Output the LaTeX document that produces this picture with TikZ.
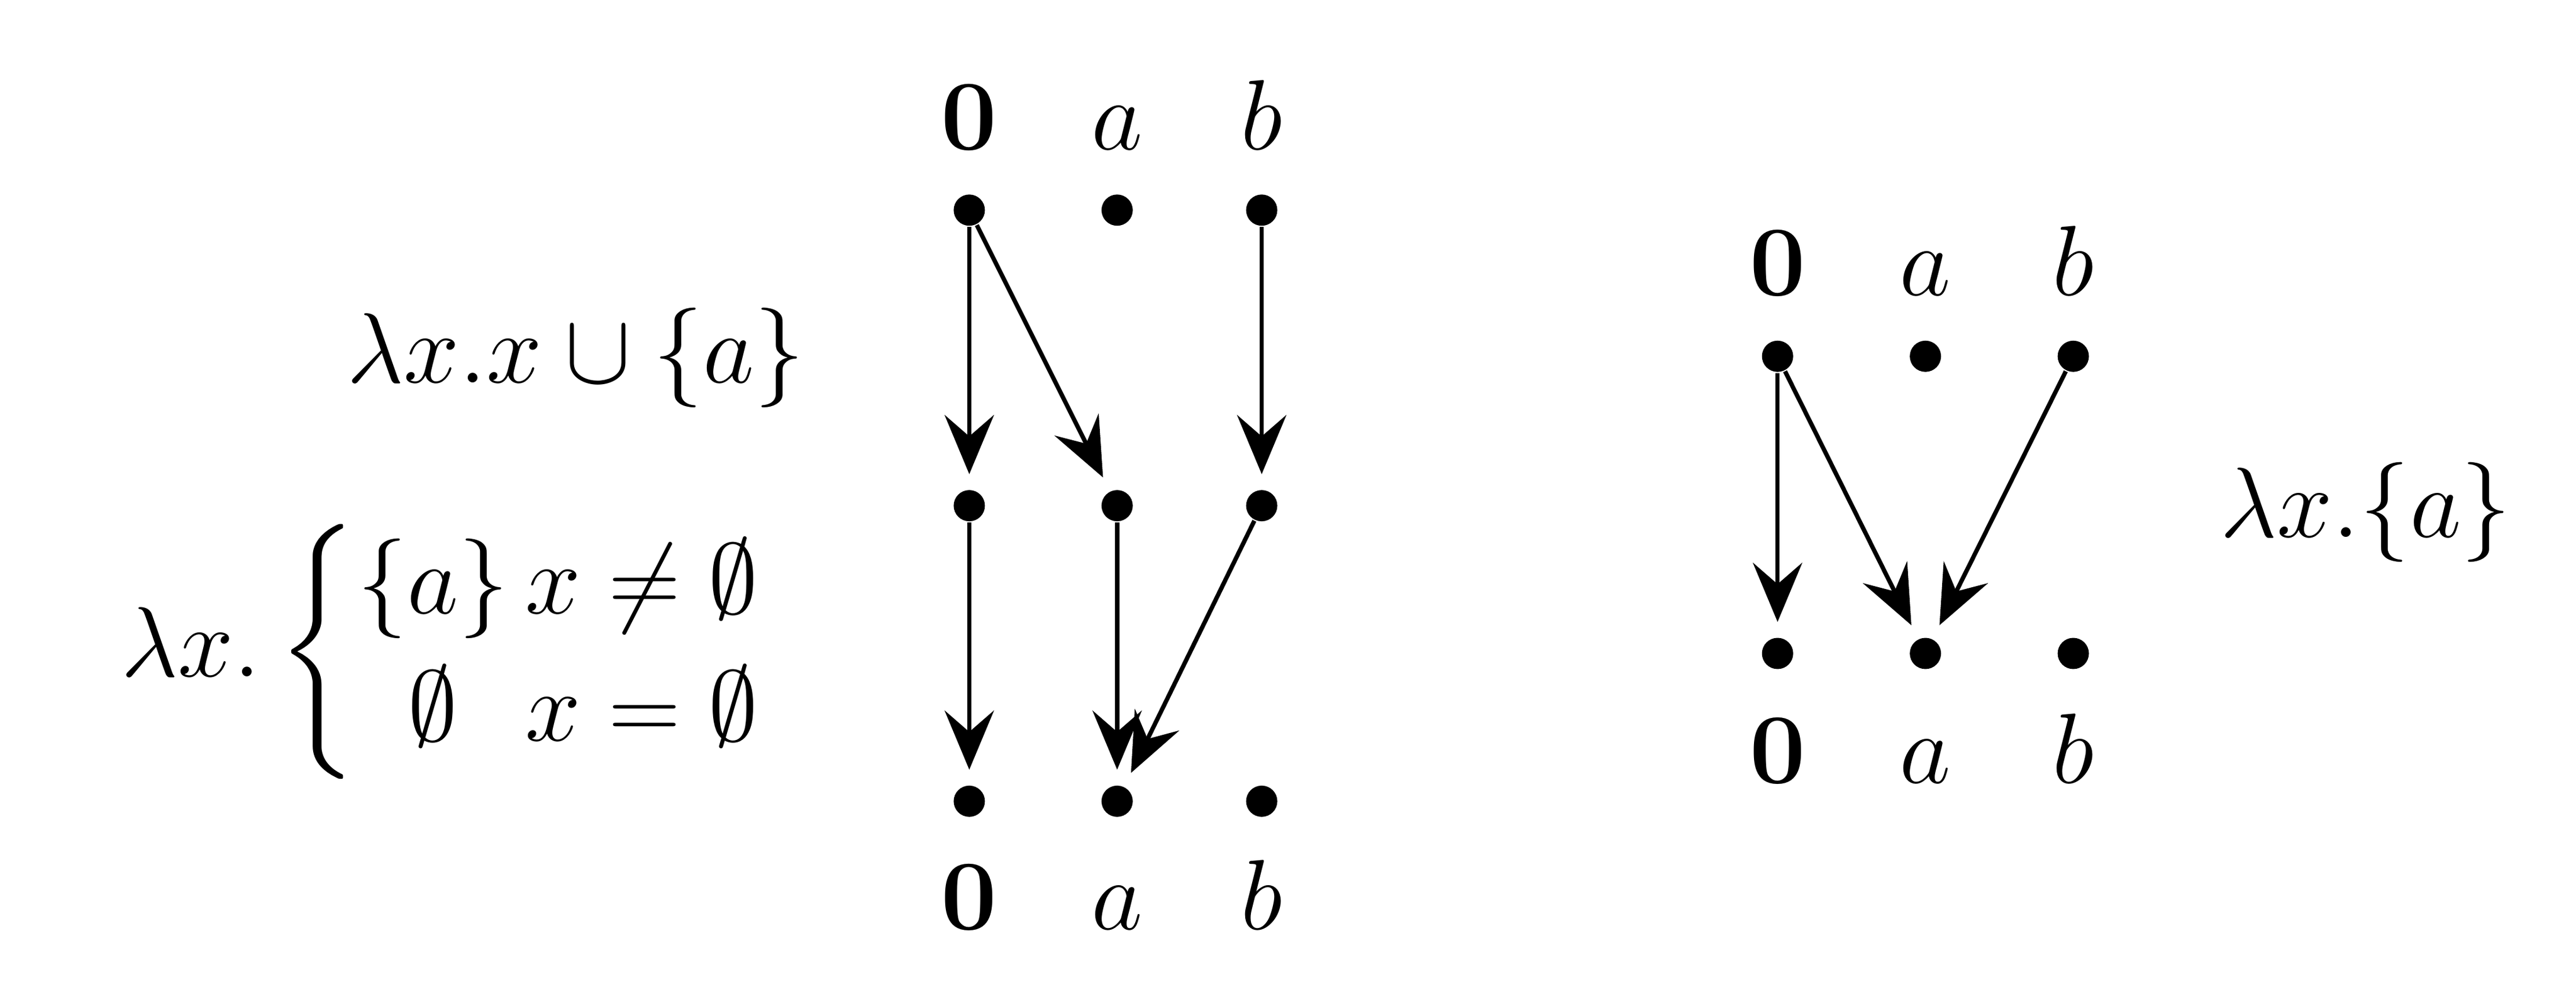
\documentclass[tikz,border=0pt]{standalone}
\usepackage{amsmath,amssymb}
\usetikzlibrary{arrows.meta}
\begin{document}
\begin{tikzpicture}[x=0.01cm,y=-0.01cm,
  dot/.style={circle,fill=black,inner sep=0pt,minimum size=0.19cm},
  lab/.style={font=\fontsize{18.4}{22}\selectfont},
  tl/.style={lab,anchor=base,inner sep=0pt},
  arr/.style={-{Stealth[length=0.36cm,width=0.3cm,inset=0.13cm]},line width=0.75pt,shorten >=0.09cm}]
\useasboundingbox (0,0) rectangle (1568,601);
% left diagram
\foreach \n/\x in {z/590,a/680,b/768}{
  \node[dot] (t\n) at (\x,128) {};
  \node[dot] (m\n) at (\x,308) {};
  \node[dot] (u\n) at (\x,488) {};
}
\node[tl] (lt0) at (590,91) {$\mathbf{0}$};
\node[tl] (lta) at (680,91) {$a$};
\node[tl] (ltb) at (768,91) {$b$};
\node[tl] (lb0) at (590,566) {$\mathbf{0}$};
\node[tl] (lba) at (680,566) {$a$};
\node[tl] (lbb) at (768,566) {$b$};
\draw[arr] (tz) -- (mz);
\draw[arr] (tz) -- (ma);
\draw[arr] (tb) -- (mb);
\draw[arr] (mz) -- (uz);
\draw[arr] (ma) -- (ua);
\draw[arr] (mb) -- (ua);
\node[lab,anchor=east] (f1) at (502,218) {$\lambda x. x\cup\{a\}$};
\node[lab,anchor=east] (f2) at (478,397) {$\lambda x.\left\{\begin{array}{@{}c@{\,}l@{}}\{a\} & x\neq\emptyset\\ \emptyset & x=\emptyset\end{array}\right.$};
% right diagram
\foreach \n/\x in {z/1082,a/1172,b/1262}{
  \node[dot] (r\n) at (\x,217) {};
  \node[dot] (s\n) at (\x,398) {};
}
\node[tl] (rt0) at (1082,180) {$\mathbf{0}$};
\node[tl] (rta) at (1172,180) {$a$};
\node[tl] (rtb) at (1262,180) {$b$};
\node[tl] (rb0) at (1082,477) {$\mathbf{0}$};
\node[tl] (rba) at (1172,477) {$a$};
\node[tl] (rbb) at (1262,477) {$b$};
\draw[arr] (rz) -- (sz);
\draw[arr] (rz) -- (sa);
\draw[arr] (rb) -- (sa);
\node[lab] (f3) at (1440,312) {$\lambda x.\{a\}$};
\end{tikzpicture}
\end{document}
